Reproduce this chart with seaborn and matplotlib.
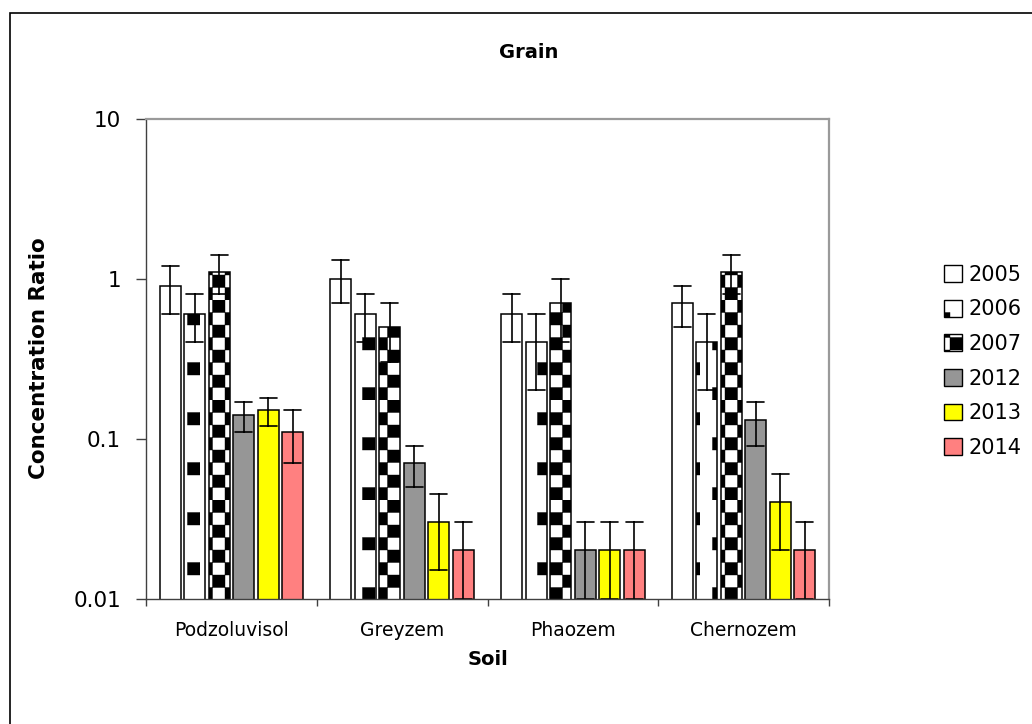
import numpy as np
import pandas as pd
import matplotlib
matplotlib.use("Agg")
import matplotlib.pyplot as plt
import matplotlib.patches as mpatches
import matplotlib.hatch as mhatch
from matplotlib.path import Path
import seaborn as sns

# ---- data ----
soils = ["Podzoluvisol", "Greyzem", "Phaozem", "Chernozem"]
years = ["2005", "2006", "2007", "2012", "2013", "2014"]

r2005 = [0.90, 1.00, 0.60, 0.70]
r2006 = [0.60, 0.60, 0.40, 0.40]
r2007 = [1.10, 0.50, 0.70, 1.10]
r2012 = [0.14, 0.07, 0.02, 0.13]
r2013 = [0.15, 0.03, 0.02, 0.04]
r2014 = [0.11, 0.02, 0.02, 0.02]

e2005 = [0.30, 0.30, 0.20, 0.20]
e2006 = [0.20, 0.20, 0.20, 0.20]
e2007 = [0.30, 0.20, 0.30, 0.30]
e2012 = [0.03, 0.02, 0.01, 0.04]
e2013 = [0.03, 0.015, 0.01, 0.02]
e2014 = [0.04, 0.01, 0.01, 0.01]

colors = ["#FFFFFF", "#FFFFFF", "#FFFFFF", "#969696", "#FFFF00", "#FF8080"]
hatches = [None, "O", "*", None, None, None]


# ---- custom square hatches (checkerboard-like Excel fills) ----
def square_verts(cells, n):
    s = 1.0 / n
    v = []
    for i, j in cells:
        x0, y0 = i * s, j * s
        v += [(x0, y0), (x0 + s, y0), (x0 + s, y0 + s), (x0, y0 + s), (x0, y0)]
    return np.array(v)


class SquareHatch(mhatch.HatchPatternBase):
    key = ""
    cells = []

    def __init__(self, hatch, density):
        self.num_vertices = 5 * len(self.cells) if self.key in hatch else 0

    def set_vertices_and_codes(self, vertices, codes):
        vertices[:] = square_verts(self.cells, 8)
        codes[:] = np.tile([Path.MOVETO, Path.LINETO, Path.LINETO,
                            Path.LINETO, Path.CLOSEPOLY], len(self.cells))


class CheckerHatch(SquareHatch):
    key = "*"
    cells = [(i, j) for i in range(8) for j in range(8) if (i + j) % 2 == 0]


class SparseHatch(SquareHatch):
    key = "O"
    cells = [(1, 0), (5, 0), (3, 2), (7, 2), (1, 4), (5, 4), (3, 6), (7, 6)]


mhatch._hatch_types = [t for t in mhatch._hatch_types
                       if t not in (mhatch.Stars, mhatch.LargeCircles)]
mhatch._hatch_types += [CheckerHatch, SparseHatch]

# ---- long table: value-err, value, value+err per bar ----
vals = [r2005, r2006, r2007, r2012, r2013, r2014]
errs = [e2005, e2006, e2007, e2012, e2013, e2014]
rows = []
for yr, rv, ev in zip(years, vals, errs):
    for soil, v, e in zip(soils, rv, ev):
        for p in (v - e, v, v + e):
            rows.append({"Soil": soil, "Year": yr, "Ratio": p})
df = pd.DataFrame(rows)

sns.set_style("white")
plt.rcParams["font.family"] = ["DejaVu Sans"]
plt.rcParams["hatch.linewidth"] = 0.3
for k in ["text.color", "axes.labelcolor", "xtick.color", "ytick.color"]:
    plt.rcParams[k] = "black"

fig = plt.figure(figsize=(10.32, 7.24), dpi=100)
ax = fig.add_axes([0.1415, 0.1733, 0.6618, 0.663])

# median of (v-e, v, v+e) gives v; 100% interval gives v-e .. v+e
sns.barplot(data=df, x="Soil", y="Ratio", hue="Year", order=soils,
            hue_order=years, palette=colors, saturation=1,
            estimator="median", errorbar=("pi", 100), capsize=0.6,
            err_kws={"color": "black", "linewidth": 1.2},
            width=0.86, gap=0.14, edgecolor="black", linewidth=1.1,
            legend=False, ax=ax)
ax.set_yscale("log", nonpositive="clip")

for cont, h in zip(ax.containers, hatches):
    if h:
        for bar in cont:
            bar.set_hatch(h)

ax.set_ylim(0.01, 10)
ax.set_xlim(-0.5, 3.5)
ax.set_yticks([0.01, 0.1, 1, 10])
ax.set_yticklabels(["0.01", "0.1", "1", "10"])
ax.yaxis.set_minor_locator(matplotlib.ticker.NullLocator())
ax.tick_params(axis="y", which="major", direction="out", length=7,
               width=1, color="#404040", labelsize=15.5, pad=11, left=True)
ax.set_xticks(range(len(soils)))
ax.set_xticklabels(soils)
ax.set_xticks([-0.5, 0.5, 1.5, 2.5, 3.5], minor=True)
ax.tick_params(axis="x", which="major", length=0, labelsize=13.5, pad=16)
ax.tick_params(axis="x", which="minor", direction="out", length=5,
               width=1, color="#404040", bottom=True)

for s in ["left", "bottom"]:
    ax.spines[s].set_color("#404040")
    ax.spines[s].set_linewidth(1.0)
for s in ["top", "right"]:
    ax.spines[s].set_color("#9a9a9a")
    ax.spines[s].set_linewidth(1.6)

ax.set_xlabel("Soil", fontsize=14, fontweight="bold")
ax.xaxis.label.set_verticalalignment("center")
ax.xaxis.set_label_coords(0.5, -0.128)
ax.set_ylabel("Concentration Ratio", fontsize=15.5, fontweight="bold")
ax.yaxis.label.set_verticalalignment("center")
ax.yaxis.set_label_coords(-0.157, 0.5)

fig.text(0.512, 0.928, "Grain", ha="center", va="center",
         fontsize=14, fontweight="bold")

handles = [mpatches.Patch(facecolor=c, edgecolor="black", hatch=h, linewidth=1.0)
           for c, h in zip(colors, hatches)]
fig.legend(handles, years, loc="center left", bbox_to_anchor=(0.9147, 0.501),
           frameon=False, fontsize=15, handlelength=0.87, handleheight=0.87,
           handletextpad=0.3, labelspacing=0.7, borderpad=0, borderaxespad=0)

# outer chart border (runs off right and bottom edges)
fig.add_artist(mpatches.Rectangle((10 / 1032, -0.1), 2.0, 1.1 - 13 / 724,
                                  transform=fig.transFigure, fill=False,
                                  edgecolor="black", linewidth=1.2))

fig.savefig("out.png", dpi=100)
